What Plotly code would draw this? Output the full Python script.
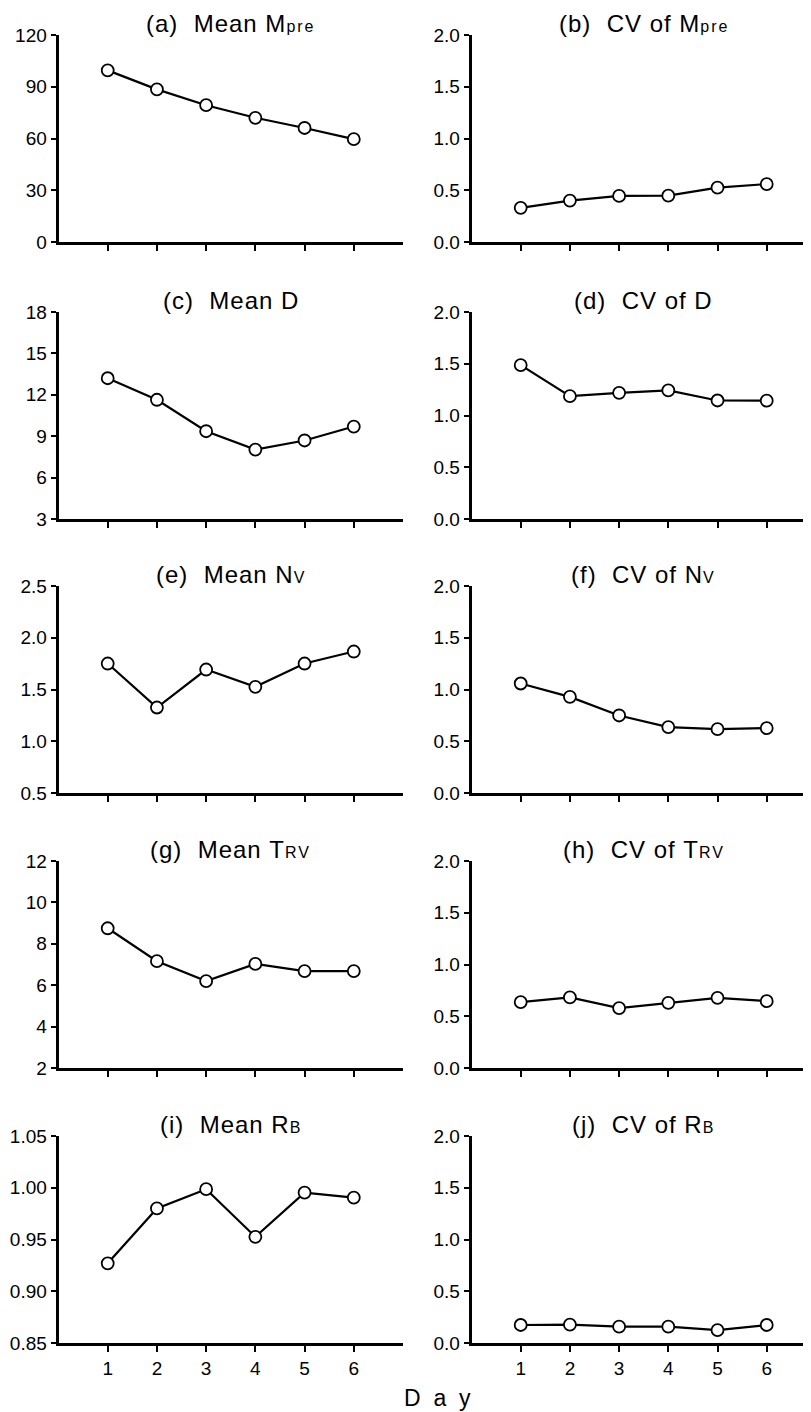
import plotly.graph_objects as go

days = [1, 2, 3, 4, 5, 6]

mean_mpre = [99.5, 88.5, 79.3, 72.0, 66.1, 59.6]
cv_mpre = [0.33, 0.40, 0.445, 0.448, 0.525, 0.56]
mean_d = [13.2, 11.64, 9.36, 8.03, 8.69, 9.70]
cv_d = [1.487, 1.187, 1.219, 1.242, 1.145, 1.143]
mean_nv = [1.751, 1.326, 1.693, 1.526, 1.751, 1.867]
cv_nv = [1.058, 0.929, 0.749, 0.637, 0.617, 0.627]
mean_trv = [8.75, 7.16, 6.20, 7.03, 6.68, 6.68]
cv_trv = [0.637, 0.682, 0.579, 0.630, 0.678, 0.646]
mean_rb = [0.927, 0.980, 0.9986, 0.9526, 0.9953, 0.9905]
cv_rb = [0.174, 0.177, 0.158, 0.158, 0.125, 0.174]

titles = [
    ("(a)", "Mean M", "pre"),
    ("(b)", "CV of M", "pre"),
    ("(c)", "Mean D", ""),
    ("(d)", "CV of D", ""),
    ("(e)", "Mean N", "V"),
    ("(f)", "CV of N", "V"),
    ("(g)", "Mean T", "RV"),
    ("(h)", "CV of T", "RV"),
    ("(i)", "Mean R", "B"),
    ("(j)", "CV of R", "B"),
]
series = [mean_mpre, cv_mpre, mean_d, cv_d, mean_nv, cv_nv,
          mean_trv, cv_trv, mean_rb, cv_rb]

cv_ticks = [0.0, 0.5, 1.0, 1.5, 2.0]
cv_text = ["0.0", "0.5", "1.0", "1.5", "2.0"]
yticks = [
    ([0, 30, 60, 90, 120], ["0", "30", "60", "90", "120"]),
    (cv_ticks, cv_text),
    ([3, 6, 9, 12, 15, 18], ["3", "6", "9", "12", "15", "18"]),
    (cv_ticks, cv_text),
    ([0.5, 1.0, 1.5, 2.0, 2.5], ["0.5", "1.0", "1.5", "2.0", "2.5"]),
    (cv_ticks, cv_text),
    ([2, 4, 6, 8, 10, 12], ["2", "4", "6", "8", "10", "12"]),
    (cv_ticks, cv_text),
    ([0.85, 0.90, 0.95, 1.00, 1.05], ["0.85", "0.90", "0.95", "1.00", "1.05"]),
    (cv_ticks, cv_text),
]
day_ticks = [1, 2, 3, 4, 5, 6]
day_text = ["1", "2", "3", "4", "5", "6"]
x_label = "Day"

# page offset (body margin) compensation
OFF = 8
W, H = 811, 1412
row_tops = [35, 312, 586, 861, 1136]
row_h = 207
# (left px, right px, x range max) in viewport pixels
col_x = [(58.5, 403.0, 7.0), (471.5, 811.0 + OFF, 6.9 + OFF / 49.2)]

FONT = "Liberation Sans, Arial, sans-serif"


def title_html(t):
    lab, main, sub = t
    txt = lab + "&nbsp;&nbsp;" + main.replace(" ", "&nbsp;")
    if sub:
        txt += '<span style="font-size:16px;letter-spacing:2px">%s</span>' % sub
    return '<span style="letter-spacing:1px">%s</span>' % txt


fig = go.Figure()
layout = dict(
    template="none",
    width=W, height=H, autosize=False,
    margin=dict(l=0, r=0, t=0, b=0, pad=0, autoexpand=False),
    paper_bgcolor="white", plot_bgcolor="white",
    showlegend=False,
    font=dict(family=FONT, size=19, color="black"),
)
annotations = []
for i in range(10):
    r, c = divmod(i, 2)
    idx = "" if i == 0 else str(i + 1)
    top = row_tops[r] - OFF
    bot = top + row_h
    x0, x1, xmax = col_x[c]
    x0 -= OFF
    x1 -= OFF
    ticks, ttext = yticks[i]
    fig.add_trace(go.Scatter(
        x=days, y=series[i], xaxis="x" + idx, yaxis="y" + idx,
        mode="lines+markers",
        line=dict(color="black", width=2.2),
        marker=dict(symbol="circle", size=12, color="white",
                    line=dict(color="black", width=1.8)),
        cliponaxis=False,
    ))
    layout["xaxis" + idx] = dict(
        domain=[x0 / W, min(x1 / W, 1.0)], anchor="y" + idx, automargin=False,
        range=[0, xmax], showgrid=False, zeroline=False,
        showline=True, linecolor="black", linewidth=2.8,
        ticks="outside", ticklen=6, tickwidth=2, tickcolor="black",
        tickvals=day_ticks, ticktext=day_text,
        showticklabels=(r == 4),
        tickfont=dict(family=FONT, size=19, color="black"),
    )
    layout["yaxis" + idx] = dict(
        domain=[1 - bot / H, 1 - top / H], anchor="x" + idx, automargin=False,
        range=[ticks[0], ticks[-1]], showgrid=False, zeroline=False,
        showline=True, linecolor="black", linewidth=2.8,
        ticks="outside", ticklen=5, tickwidth=2, tickcolor="black",
        tickvals=ticks, ticktext=ttext,
        tickfont=dict(family=FONT, size=19, color="black"),
    )
    cx = (x0 + (x0 + 344.5)) / 2
    annotations.append(dict(
        text=title_html(titles[i]), xref="paper", yref="paper",
        x=cx / W, y=1 - (top - 12) / H,
        xanchor="center", yanchor="middle", showarrow=False,
        font=dict(family=FONT, size=24, color="black"),
    ))

annotations.append(dict(
    text="&nbsp;&nbsp;".join(x_label), xref="paper", yref="paper",
    x=(437 - OFF) / W, y=1 - (1398 - OFF) / H, xanchor="center", yanchor="middle",
    showarrow=False, font=dict(family=FONT, size=23, color="black"),
))
layout["annotations"] = annotations
fig.update_layout(**layout)
fig.write_html("out.html")
